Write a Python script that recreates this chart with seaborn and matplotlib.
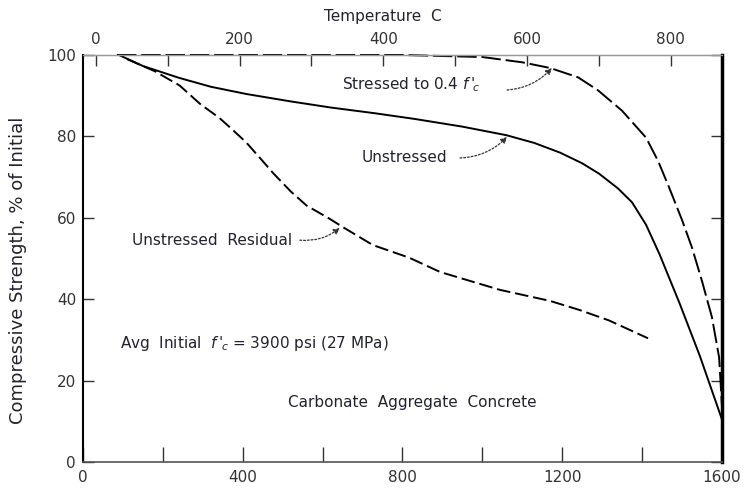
import numpy as np
import pandas as pd
import matplotlib
matplotlib.use("Agg")
import matplotlib.pyplot as plt
import seaborn as sns

# ---- data (temperature in F, strength in % of initial)
temp_stressed = [85, 400, 800, 1000, 1100, 1170, 1240, 1290, 1350, 1410, 1440, 1468, 1500,
                 1525, 1550, 1575, 1593, 1600]
strength_stressed = [100, 100, 100, 99.5, 98.2, 96.8, 94.5, 91.3, 86.3, 79.7, 74.0, 67.4, 59.5,
                     52.7, 44.5, 35.6, 25.7, 14]

temp_unstressed = [90, 150, 240, 320, 410, 520, 620, 730, 830, 950, 1060, 1130, 1195, 1250,
                   1293, 1340, 1375, 1410, 1444, 1494, 1545, 1600]
strength_unstressed = [100, 97.3, 94.4, 92.2, 90.4, 88.6, 87.1, 85.7, 84.3, 82.4, 80.3, 78.4, 76.0,
                       73.4, 70.8, 67.2, 63.8, 58.3, 51.0, 39.0, 26.0, 10.5]

temp_residual = [110, 180, 242, 293, 342, 376, 409, 445, 476, 520, 560, 617, 651, 726, 817,
                 894, 1044, 1169, 1242, 1317, 1415]
strength_residual = [99, 96, 92.5, 88, 84.5, 81.5, 78.5, 74.5, 71, 66.5, 63, 59.8, 57.7, 53.3, 50.2,
                     46.7, 42.3, 39.6, 37.4, 34.8, 30.4]

x_ticks_f = [0, 200, 400, 600, 800, 1000, 1200, 1400, 1600]
x_labels_f = ["0", "", "400", "", "800", "", "1200", "", "1600"]
y_ticks = [0, 20, 40, 60, 80, 100]
top_ticks_c = [0, 200, 400, 600, 800]
top_minor_c = [100, 300, 500, 700]

sns.set_style("ticks")
plt.rcParams['font.family'] = ['DejaVu Sans']
txt_color = "#222230"

fig, ax = plt.subplots(figsize=(7.45, 4.91), dpi=100)
fig.subplots_adjust(left=0.1114, right=0.969, bottom=0.059, top=0.888)

df_s = pd.DataFrame({"temp": temp_stressed, "strength": strength_stressed})
df_u = pd.DataFrame({"temp": temp_unstressed, "strength": strength_unstressed})
df_r = pd.DataFrame({"temp": temp_residual, "strength": strength_residual})

sns.lineplot(data=df_s, x="temp", y="strength", ax=ax, color="black", linewidth=1.4, estimator=None)
ax.lines[-1].set_linestyle((0, (10, 2.5)))
ax.lines[-1].set_clip_on(False)
sns.lineplot(data=df_u, x="temp", y="strength", ax=ax, color="black", linewidth=1.4, estimator=None)
ax.lines[-1].set_clip_on(False)
sns.lineplot(data=df_r, x="temp", y="strength", ax=ax, color="black", linewidth=1.4, estimator=None)
ax.lines[-1].set_linestyle((0, (7, 2.5)))

ax.set_xlim(0, 1600)
ax.set_ylim(0, 100)
ax.set_xlabel("")
ax.set_ylabel("Compressive Strength, % of Initial", fontsize=13, color=txt_color)
ax.yaxis.set_label_coords(-0.088, 0.47)

ax.set_xticks(x_ticks_f)
ax.set_xticklabels(x_labels_f)
ax.set_yticks(y_ticks)
ax.tick_params(axis="x", direction="in", length=11, width=1.0, labelsize=11, pad=6, colors="#333333")
ax.tick_params(axis="y", direction="in", length=8, width=1.0, labelsize=11, pad=5,
               right=True, colors="#333333")

for side, lw, col in [("left", 1.5, "black"), ("right", 2.5, "black"),
                      ("bottom", 1.2, "#555555"), ("top", 1.0, "#999999")]:
    ax.spines[side].set_linewidth(lw)
    ax.spines[side].set_color(col)

def f2c(f):
    return (np.asarray(f) - 32.0) * 5.0 / 9.0

def c2f(c):
    return np.asarray(c) * 9.0 / 5.0 + 32.0

secax = ax.secondary_xaxis("top", functions=(f2c, c2f))
secax.set_xticks(top_ticks_c)
secax.set_xticks(top_minor_c, minor=True)
secax.tick_params(axis="x", which="both", direction="in", length=8, width=1.0,
                  labelsize=11, pad=6, colors="#333333")
secax.spines["top"].set_color("#999999")
fig.text(383 / 745, 1 - 16 / 491, "Temperature  C", fontsize=11, color=txt_color,
         ha="center", va="center")

# ---- annotations
ax.text(648, 92.6, "Stressed to 0.4 $f\\,'_{\\!c}$", fontsize=11, color=txt_color, va="center", ha="left")
ax.text(699, 74.7, "Unstressed", fontsize=11, color=txt_color, va="center", ha="left")
ax.text(123, 54.5, "Unstressed  Residual", fontsize=11, color=txt_color, va="center", ha="left")
ax.text(93, 29.2, "Avg  Initial  $f\\,'_{\\!c}$ = 3900 psi (27 MPa)", fontsize=11, color=txt_color,
        va="center", ha="left")
ax.text(513, 14.7, "Carbonate  Aggregate  Concrete", fontsize=11, color=txt_color, va="center", ha="left")

arrow_kw = dict(arrowstyle="-|>", lw=0.9, linestyle=(0, (1.5, 1.5)), color="#333333",
                mutation_scale=9, shrinkA=0, shrinkB=0)
ax.annotate("", xy=(1174, 96.8), xytext=(1062, 91.4),
            arrowprops=dict(arrow_kw, connectionstyle="arc3,rad=0.2"))
ax.annotate("", xy=(1062, 79.9), xytext=(944, 74.7),
            arrowprops=dict(arrow_kw, connectionstyle="arc3,rad=0.2"))
ax.annotate("", xy=(643, 57.5), xytext=(543, 54.5),
            arrowprops=dict(arrow_kw, connectionstyle="arc3,rad=0.2"))

fig.savefig("out.png", dpi=100)
